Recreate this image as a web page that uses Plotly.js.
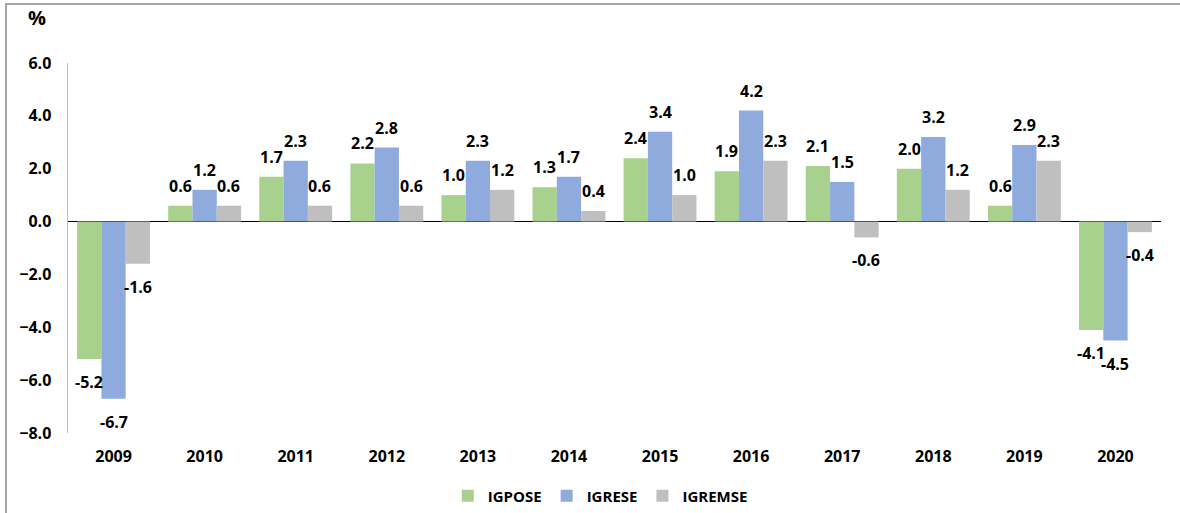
<!DOCTYPE html>
<html>
<head>
<meta charset="utf-8">
<script src="https://cdn.plot.ly/plotly-3.0.1.min.js"></script>
<style>html,body{margin:0;padding:0;background:#fff;}#chart{width:1180px;height:513px;}</style>
</head>
<body>
<div id="chart"></div>
<script>
const years = ['2009','2010','2011','2012','2013','2014','2015','2016','2017','2018','2019','2020'];
const igpose = [-5.2, 0.6, 1.7, 2.2, 1.0, 1.3, 2.4, 1.9, 2.1, 2.0, 0.6, -4.1];
const igrese = [-6.7, 1.2, 2.3, 2.8, 2.3, 1.7, 3.4, 4.2, 1.5, 3.2, 2.9, -4.5];
const igremse = [-1.6, 0.6, 0.6, 0.6, 1.2, 0.4, 1.0, 2.3, -0.6, 1.2, 2.3, -0.4];
const yTicks = [-8, -6, -4, -2, 0, 2, 4, 6];

const FONT = 'Open Sans, Noto Sans, sans-serif';
const W = 1180, H = 513;
const M = {l: 68, r: 19, t: 63, b: 80};
const BARGAP = 0.2;
const series = [
  {name: 'IGPOSE', vals: igpose, color: '#A9D18E'},
  {name: 'IGRESE', vals: igrese, color: '#8FAADC'},
  {name: 'IGREMSE', vals: igremse, color: '#BFBFBF'}
];

const data = series.map(s => ({
  type: 'bar', name: s.name, x: years, y: s.vals,
  marker: {color: s.color}, hoverinfo: 'skip'
}));

// data labels placed as annotations on the data scale, shifted to each bar of the group
const catPx = (W - M.l - M.r) / years.length;
const barPx = catPx * (1 - BARGAP) / series.length;
const annotations = [];
series.forEach((s, i) => {
  const dx = (i - (series.length - 1) / 2) * barPx;
  s.vals.forEach((v, j) => {
    annotations.push({
      x: j, y: v, xref: 'x', yref: 'y',
      text: v.toFixed(1), showarrow: false,
      xshift: dx, yshift: v >= 0 ? 20 : -23,
      xanchor: 'center', yanchor: 'middle',
      font: {family: FONT, size: 16, weight: 'bold', color: '#000'}
    });
  });
});
annotations.push({
  text: '%', xref: 'paper', yref: 'paper', x: -0.028, y: 1.124,
  xanchor: 'center', yanchor: 'middle', showarrow: false,
  font: {family: FONT, size: 20, weight: 'bold', color: '#000'}
});

const layout = {
  width: W, height: H,
  margin: Object.assign({autoexpand: false}, M),
  paper_bgcolor: '#fff', plot_bgcolor: '#fff',
  barmode: 'group', bargap: BARGAP, bargroupgap: 0,
  font: {family: FONT, color: '#000'},
  xaxis: {
    type: 'category', range: [-0.5, years.length - 0.5],
    showgrid: false, showline: false, zeroline: false, ticks: '',
    tickfont: {family: FONT, size: 16, weight: 'bold', color: '#000'},
    ticklabelstandoff: 12
  },
  yaxis: {
    range: [-8, 6], tickvals: yTicks, tickformat: '.1f',
    showgrid: false, showline: true, linecolor: '#BFBFBF', linewidth: 1.5,
    zeroline: true, zerolinecolor: '#000', zerolinewidth: 1.5,
    ticks: '', ticklabelstandoff: 12,
    tickfont: {family: FONT, size: 16, weight: 'bold', color: '#000'}
  },
  showlegend: true,
  legend: {
    orientation: 'h', x: 0.487, xanchor: 'center', y: -0.17, yanchor: 'middle',
    font: {family: FONT, size: 15, weight: 'bold', color: '#000'},
    itemwidth: 30, traceorder: 'normal'
  },
  annotations: annotations,
  shapes: [{
    type: 'rect', xref: 'paper', yref: 'paper',
    x0: -0.0567, x1: 1.5, y0: -1, y1: 1.1595,
    line: {color: '#A6A6A6', width: 2}, fillcolor: 'rgba(0,0,0,0)', layer: 'below'
  }]
};
Plotly.newPlot('chart', data, layout, {staticPlot: true});
</script>
</body>
</html>
